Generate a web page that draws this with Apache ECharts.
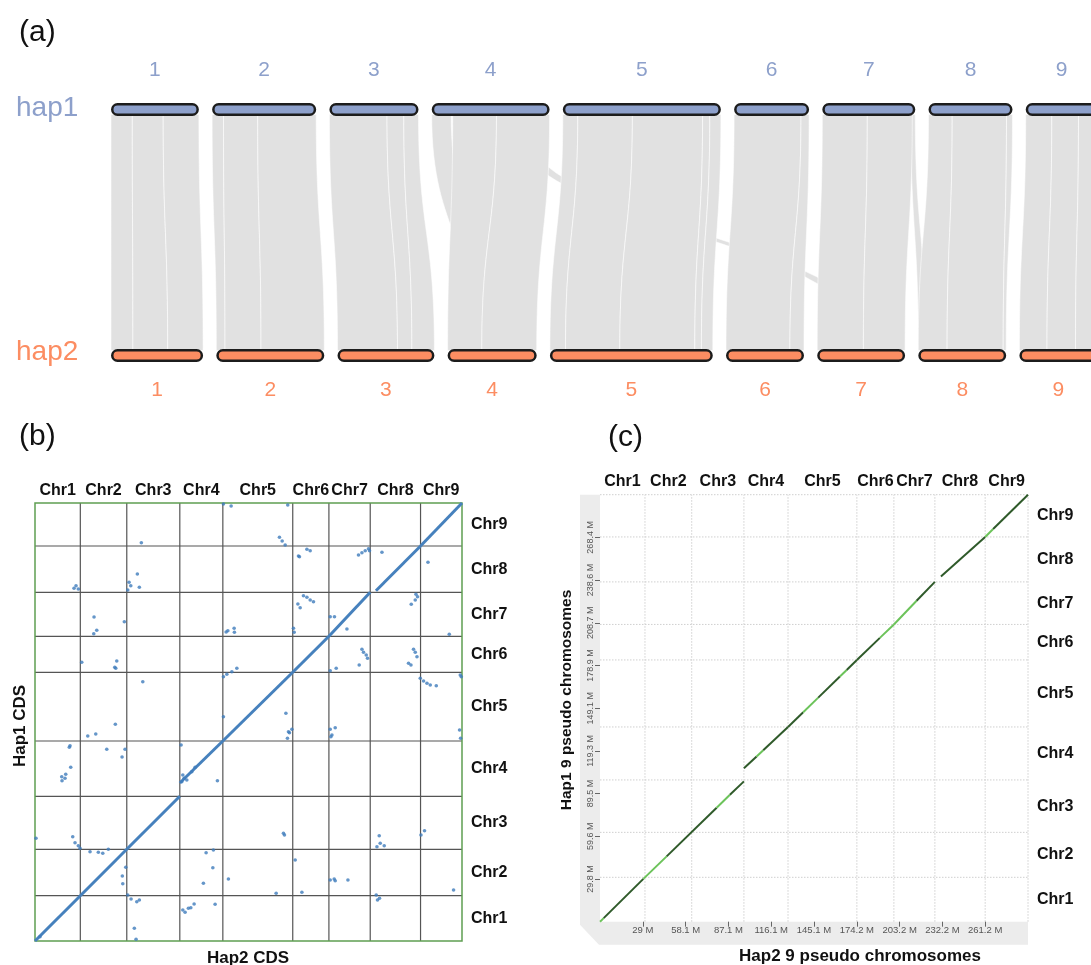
<!DOCTYPE html>
<html><head><meta charset="utf-8">
<script src="https://cdn.jsdelivr.net/npm/echarts@6/dist/echarts.min.js"></script>
<style>html,body{margin:0;padding:0;background:#fff}#chart{width:1091px;height:965px}</style>
</head><body><div id="chart"></div>
<script>
// ---------- Panel (a): synteny between haplotypes ----------
const aChrNames = ['1','2','3','4','5','6','7','8','9'];
const hap1Len = [29.3, 34.7, 29.7, 39.3, 52.7, 25.0, 31.0, 28.0, 24.0];
const hap2Len = [30.7, 36.0, 32.3, 29.7, 54.3, 26.0, 29.3, 29.3, 26.0];
const chrGap = 4.4;
// [hap1 chr, hap1 start, hap1 end, hap2 chr, hap2 start, hap2 end]
const syntenyBlocks = [
  [3,25,29,6,17,21],
  [6,29.5,31,7,0,2.5],
  [3,0,6.5,3,9,15],
  [0,0,7.1,0,0,7.3],[0,7.1,17.4,0,7.3,18.9],[0,17.4,29.3,0,18.9,30.7],
  [1,0,3.8,1,0,2.9],[1,3.8,15.2,1,2.9,14.9],[1,15.2,34.7,1,14.9,36.0],
  [2,0,19.2,2,0,20.0],[2,19.2,24.8,2,20.0,24.8],[2,24.8,29.7,2,24.8,32.3],
  [3,7,21.6,3,0,11.4],[3,21.6,39.3,3,11.4,29.7],
  [4,0,5,4,0,5.2],[4,5,23.2,4,5.2,23.3],[4,23.2,46.6,4,23.3,48.3],[4,46.6,49,4,48.3,50.5],[4,49,52.7,4,50.5,54.3],
  [5,0,22.3,5,0,21.3],[5,22.3,25,5,21.3,26.0],
  [6,0,15,6,0,15.4],[6,15,30,6,15.4,29.3],
  [7,0,7.9,7,0,9.6],[7,7.9,26,7,9.6,28.3],[7,26,28,7,28.3,29.3],
  [8,0,8.7,8,0,9.2],[8,8.7,17.6,8,9.2,18.7],[8,17.6,24,8,18.7,26.0]
];

// ---------- Panel (b): CDS dot plot (hundreds of CDS) ----------
const bChrNames = ['Chr1','Chr2','Chr3','Chr4','Chr5','Chr6','Chr7','Chr8','Chr9'];
const bHap2Cds = [31.7, 32.5, 37.1, 30.1, 48.9, 25.3, 28.9, 35.2, 29.0];
const bHap1Cds = [31.7, 32.5, 37.1, 38.7, 48.1, 25.2, 30.8, 32.4, 30.1];
const bDiagonal = [
  [0,0,31.7,31.7],[31.7,31.7,64.2,64.2],[64.2,64.2,101.3,101.3],[101.3,110.6,131.4,140.0],
  [131.4,140.0,180.3,188.1],[180.3,188.1,205.6,213.3],[205.6,213.3,234.5,244.1],
  [238.5,245.2,269.7,276.5],[269.7,276.5,298.7,306.6]
];
const bDots = [[131.8,305.9],[137.2,304.5],[176.8,305.2],[171.0,282.6],[172.9,280.0],[175.0,277.2],[74.4,278.8],[71.6,256.9],[27.3,246.9],[28.7,248.7],[30.3,246.4],[65.8,251.1],[67.0,248.7],[64.9,245.7],[73.0,247.6],[184.3,269.5],[183.9,235.9],[41.3,226.8],[62.5,223.5],[43.2,217.5],[41.1,215.1],[133.7,216.3],[134.9,217.2],[139.3,218.9],[139.5,216.1],[180.8,218.9],[181.3,216.1],[32.7,195.1],[57.2,196.0],[55.8,191.6],[56.5,190.9],[131.8,185.0],[134.2,186.7],[137.7,188.5],[141.2,190.9],[75.4,181.5],[190.2,274.2],[192.5,273.2],[185.0,269.0],[226.3,270.2],[228.7,271.8],[231.0,273.2],[233.3,274.6],[234.0,273.2],[242.7,272.1],[274.9,265.1],[187.8,241.7],[190.2,240.6],[192.5,238.7],[194.8,237.5],[185.5,233.3],[266.5,242.7],[267.6,241.0],[266.0,238.7],[263.2,235.7],[206.5,227.0],[209.5,227.0],[218.2,218.4],[289.8,214.7],[228.7,204.2],[229.8,202.1],[231.7,200.2],[232.6,197.9],[226.8,193.2],[264.8,204.2],[266.0,202.1],[267.2,199.0],[261.3,194.4],[263.0,193.2],[206.5,189.2],[210.7,190.9],[269.5,183.9],[271.8,182.0],[274.2,180.4],[276.5,179.2],[280.7,178.7],[297.5,186.2],[298.2,185.0],[131.8,157.0],[175.5,159.4],[176.6,141.9],[178.0,145.8],[179.7,148.2],[56.2,151.7],[36.9,143.5],[42.5,144.9],[24.5,136.7],[24.0,135.6],[50.2,134.2],[63.0,134.2],[60.9,128.8],[102.2,137.2],[25.0,121.6],[21.5,116.7],[18.7,115.0],[18.9,112.2],[21.0,113.9],[103.4,116.2],[104.3,113.9],[106.2,112.7],[102.7,111.5],[112.0,121.6],[109.7,118.5],[127.6,112.2],[173.8,75.4],[174.5,74.2],[0.7,71.9],[26.4,73.0],[28.0,68.8],[30.3,66.7],[31.5,64.9],[38.5,62.5],[44.3,62.1],[47.4,61.4],[51.3,64.2],[119.7,61.8],[124.8,63.7],[63.5,51.6],[61.1,45.5],[61.4,40.1],[124.4,51.3],[117.8,40.4],[135.3,43.4],[182.0,56.7],[168.7,33.4],[64.9,32.2],[67.2,29.4],[71.2,27.5],[73.0,28.7],[103.4,21.7],[105.0,20.1],[107.3,22.9],[109.0,23.3],[111.3,25.9],[126.0,25.7],[69.5,8.9],[70.7,1.2],[3.5,3.0],[177.3,146.5],[206.5,148.2],[210.0,149.3],[207.7,144.2],[207.0,143.0],[297.0,147.7],[297.7,141.9],[240.8,73.7],[241.5,68.4],[239.2,66.0],[244.3,66.7],[270.0,74.2],[272.5,77.2],[209.3,43.4],[210.0,42.2],[206.5,42.7],[218.9,42.7],[186.7,34.1],[292.8,35.7],[238.7,32.2],[241.0,29.9],[239.6,28.7]];

// ---------- Panel (c): pseudo-chromosome dot plot (Mb) ----------
const cHap2Mb = [30.5, 31.7, 35.4, 29.9, 46.7, 25.1, 27.8, 34.1, 29.05];
const cHap1Mb = [31.0, 31.4, 36.6, 37.0, 46.8, 24.8, 29.7, 31.4, 29.5];
const cXTickLabels = ['29 M','58.1 M','87.1 M','116.1 M','145.1 M','174.2 M','203.2 M','232.2 M','261.2 M'];
const cYTickLabels = ['29.8 M','59.6 M','89.5 M','119.3 M','149.1 M','178.9 M','208.7 M','238.6 M','268.4 M'];
// [hap2 x0, hap1 y0, hap2 x1, hap1 y1, shade (0 dark / 1 light)]
const cAlignSegs = [
  [0,0,2.5,2.5,1],[2.5,2.5,29.4,29.9,0],[29.4,29.9,45.2,45.6,1],[45.2,45.6,79.1,79.6,0],
  [79.1,79.6,88.1,88.7,1],[88.1,88.7,97.6,98.0,0],
  [97.6,107.1,106.2,115.4,0],[106.2,115.4,110.7,119.8,1],[110.7,119.8,127.5,136.0,0],
  [127.5,136.0,137.8,146.3,0],[137.8,146.3,148.0,156.5,1],[148.0,156.5,162.7,171.2,0],
  [162.7,171.2,167.3,175.8,1],[167.3,175.8,174.2,182.8,0],
  [174.2,182.8,189.8,198.2,0],[189.8,198.2,199.3,207.6,1],
  [199.3,207.6,214.7,224.1,1],[214.7,224.1,227.1,237.3,0],
  [231.2,241.1,261.2,268.7,0],
  [261.2,268.7,266.6,274.2,1],[266.6,274.2,290.25,298.2,0]
];

// ---------- helpers ----------
const FONT = "'Liberation Sans', Arial, Helvetica, sans-serif";
const NARROW = "'Liberation Sans Narrow', 'Liberation Sans', Arial, sans-serif";
const HAP1C = '#8da0cb', HAP2C = '#fc8d62';
function starts(lens, gap) { const o = []; let a = 0; lens.forEach(l => { o.push(a); a += l + (gap || 0); }); return o; }
function sum(a) { return a.reduce((s, v) => s + v, 0); }
const a1Start = starts(hap1Len, chrGap), a2Start = starts(hap2Len, chrGap);
const bXStart = starts(bHap2Cds), bYStart = starts(bHap1Cds);
const cXStart = starts(cHap2Mb), cYStart = starts(cHap1Mb);
const bXMax = sum(bHap2Cds), bYMax = sum(bHap1Cds);
const cXMax = sum(cHap2Mb), cYMax = sum(cHap1Mb);

function bez(t, a, b, c, d) { const u = 1 - t; return u*u*u*a + 3*u*u*t*b + 3*u*t*t*c + t*t*t*d; }

function textEl(x, y, text, font, fill, align, valign, rot) {
  return { type: 'text', x: x, y: y, rotation: rot || 0,
    style: { text: text, font: font, fill: fill, align: align, verticalAlign: valign,
             textAlign: align, textVerticalAlign: valign } };
}
function labelSeries(xi, yi, n, fn) {
  return { type: 'custom', xAxisIndex: xi, yAxisIndex: yi, clip: false, silent: true, z: 6,
    data: Array.from({length: n}, (_, i) => [i, 0]),
    renderItem: (p, api) => fn(p.dataIndex, api) };
}

const series = [];

// (a) ribbons
series.push({
  type: 'custom', xAxisIndex: 0, yAxisIndex: 0, clip: false, silent: true, z: 2,
  data: syntenyBlocks,
  renderItem: function (p, api) {
    const c1 = api.value(0), c2 = api.value(3);
    const xa = api.coord([a1Start[c1] + api.value(1), 1])[0];
    const xb = api.coord([a1Start[c1] + api.value(2), 1])[0];
    const xc = api.coord([a2Start[c2] + api.value(4), 0])[0];
    const xd = api.coord([a2Start[c2] + api.value(5), 0])[0];
    const yT = api.coord([0, 1])[1] + 5, yB = api.coord([0, 0])[1] - 5, ym = (yT + yB) / 2;
    const pts = [[xa, yT], [xb, yT]];
    const N = 30;
    for (let i = 1; i <= N; i++) { const t = i / N; pts.push([bez(t, xb, xb, xd, xd), bez(t, yT, ym, ym, yB)]); }
    pts.push([xc, yB]);
    for (let i = 1; i < N; i++) { const t = i / N; pts.push([bez(t, xc, xc, xa, xa), bez(t, yB, ym, ym, yT)]); }
    return { type: 'polygon', shape: { points: pts },
      style: { fill: '#e1e1e1', stroke: 'rgba(255,255,255,0.8)', lineWidth: 0.7 } };
  }
});
// (a) chromosome bars
const aBars = [];
hap1Len.forEach((l, i) => aBars.push([1, i]));
hap2Len.forEach((l, i) => aBars.push([0, i]));
series.push({
  type: 'custom', xAxisIndex: 0, yAxisIndex: 0, clip: false, silent: true, z: 4,
  data: aBars,
  renderItem: function (p, api) {
    const hap = api.value(0), i = api.value(1);
    const s = hap === 1 ? a1Start[i] : a2Start[i];
    const l = hap === 1 ? hap1Len[i] : hap2Len[i];
    const p0 = api.coord([s, hap]), p1 = api.coord([s + l, hap]);
    const h = 10.5;
    return { type: 'rect', shape: { x: p0[0] + 1.25, y: p0[1] - h / 2, width: p1[0] - p0[0] - 2.5, height: h, r: h / 2 },
      style: { fill: hap === 1 ? HAP1C : HAP2C, stroke: '#1c1c1c', lineWidth: 2.5 } };
  }
});
// (a) chromosome numbers
series.push(labelSeries(0, 0, 9, (i, api) => {
  const p = api.coord([a1Start[i] + hap1Len[i] / 2, 1]);
  return textEl(p[0], p[1] - 39, aChrNames[i], '21px ' + FONT, HAP1C, 'center', 'middle');
}));
series.push(labelSeries(0, 0, 9, (i, api) => {
  const p = api.coord([a2Start[i] + hap2Len[i] / 2, 0]);
  return textEl(p[0], p[1] + 35, aChrNames[i], '21px ' + FONT, HAP2C, 'center', 'middle');
}));

// (b) inner grid lines
const bLines = [];
bXStart.slice(1).forEach(v => bLines.push([0, v]));
bYStart.slice(1).forEach(v => bLines.push([1, v]));
series.push({
  type: 'custom', xAxisIndex: 1, yAxisIndex: 1, clip: false, silent: true, z: 2,
  data: bLines,
  renderItem: function (p, api) {
    const t = api.value(0), v = api.value(1);
    const a = t === 0 ? api.coord([v, 0]) : api.coord([0, v]);
    const b = t === 0 ? api.coord([v, bYMax]) : api.coord([bXMax, v]);
    return { type: 'line', shape: { x1: a[0], y1: a[1], x2: b[0], y2: b[1] }, style: { stroke: '#555', lineWidth: 1.2 } };
  }
});
// (b) frame
series.push({
  type: 'custom', xAxisIndex: 1, yAxisIndex: 1, clip: false, silent: true, z: 3,
  data: [[0, 0]],
  renderItem: function (p, api) {
    const a = api.coord([0, 0]), b = api.coord([bXMax, bYMax]);
    return { type: 'rect', shape: { x: a[0], y: b[1], width: b[0] - a[0], height: a[1] - b[1] },
      style: { fill: 'none', stroke: '#5f9e52', lineWidth: 1.5 } };
  }
});
// (b) diagonal
series.push({
  type: 'custom', xAxisIndex: 1, yAxisIndex: 1, clip: false, silent: true, z: 4,
  data: bDiagonal,
  renderItem: function (p, api) {
    const a = api.coord([api.value(0), api.value(1)]), b = api.coord([api.value(2), api.value(3)]);
    return { type: 'line', shape: { x1: a[0], y1: a[1], x2: b[0], y2: b[1] }, style: { stroke: '#4681bd', lineWidth: 3 } };
  }
});
// (b) dots
series.push({ type: 'scatter', xAxisIndex: 1, yAxisIndex: 1, data: bDots, symbolSize: 3.6, silent: true, z: 5,
  itemStyle: { color: '#3f7cbb' } });
// (b) labels
series.push(labelSeries(1, 1, 9, (i, api) => {
  const p = api.coord([bXStart[i] + bHap2Cds[i] / 2, bYMax]);
  return textEl(p[0], p[1] - 12.5, bChrNames[i], 'bold 16px ' + FONT, '#111', 'center', 'middle');
}));
series.push(labelSeries(1, 1, 9, (i, api) => {
  const p = api.coord([bXMax, bYStart[i] + bHap1Cds[i] / 2]);
  return textEl(p[0] + 9, p[1], bChrNames[i], 'bold 16px ' + FONT, '#111', 'left', 'middle');
}));

// (c) gray axis band
series.push({
  type: 'custom', xAxisIndex: 2, yAxisIndex: 2, clip: false, silent: true, z: 0,
  data: [[0, 0]],
  renderItem: function (p, api) {
    const a = api.coord([0, 0]), b = api.coord([cXMax, cYMax]);
    const pts = [[a[0] - 20, b[1]], [a[0], b[1]], [a[0], a[1]], [b[0], a[1]], [b[0], a[1] + 23], [a[0] - 1, a[1] + 23], [a[0] - 20, a[1] + 3]];
    return { type: 'polygon', shape: { points: pts }, style: { fill: '#ececec' } };
  }
});
// (c) dotted boundary lines
const cLines = [];
cXStart.slice(1).concat([cXMax]).forEach(v => cLines.push([0, v]));
cYStart.slice(1).concat([cYMax]).forEach(v => cLines.push([1, v]));
series.push({
  type: 'custom', xAxisIndex: 2, yAxisIndex: 2, clip: false, silent: true, z: 2,
  data: cLines,
  renderItem: function (p, api) {
    const t = api.value(0), v = api.value(1);
    const a = t === 0 ? api.coord([v, 0]) : api.coord([0, v]);
    const b = t === 0 ? api.coord([v, cYMax]) : api.coord([cXMax, v]);
    return { type: 'line', shape: { x1: a[0], y1: a[1], x2: b[0], y2: b[1] }, style: { stroke: '#cfcfcf', lineWidth: 1, lineDash: [1.5, 1.5] } };
  }
});
// (c) alignment segments
series.push({
  type: 'custom', xAxisIndex: 2, yAxisIndex: 2, clip: false, silent: true, z: 4,
  data: cAlignSegs,
  renderItem: function (p, api) {
    const a = api.coord([api.value(0), api.value(1)]), b = api.coord([api.value(2), api.value(3)]);
    return { type: 'line', shape: { x1: a[0], y1: a[1], x2: b[0], y2: b[1] },
      style: { stroke: api.value(4) === 1 ? '#6cc35a' : '#2f5a2a', lineWidth: 2 } };
  }
});
// (c) labels
series.push(labelSeries(2, 2, 9, (i, api) => {
  const p = api.coord([cXStart[i] + cHap2Mb[i] / 2, cYMax]);
  return textEl(p[0], p[1] - 13, bChrNames[i], 'bold 16px ' + FONT, '#111', 'center', 'middle');
}));
series.push(labelSeries(2, 2, 9, (i, api) => {
  const p = api.coord([cXMax, cYStart[i] + cHap1Mb[i] / 2]);
  return textEl(p[0] + 9, p[1], bChrNames[i], 'bold 16px ' + FONT, '#111', 'left', 'middle');
}));

const cXTicks = cXTickLabels.map(s => parseFloat(s));
const cYTicks = cYTickLabels.map(s => parseFloat(s));

const option = {
  animation: false,
  backgroundColor: '#ffffff',
  grid: [
    { left: 111, top: 109.5, right: 0, height: 246 },
    { left: 35, top: 503, width: 427, height: 438 },
    { left: 600, top: 494.7, width: 428, height: 427 }
  ],
  xAxis: [
    { gridIndex: 0, type: 'value', min: 0, max: 980 / 3, show: false },
    { gridIndex: 1, type: 'value', min: 0, max: bXMax, show: false },
    { gridIndex: 2, type: 'value', min: 0, max: cXMax, z: 5, offset: 1,
      axisLine: { show: false }, splitLine: { show: false },
      axisTick: { show: true, length: 5, customValues: cXTicks, lineStyle: { color: '#666' } },
      axisLabel: { customValues: cXTicks, margin: 3, fontSize: 9.5, fontFamily: NARROW, color: '#555',
        formatter: v => cXTickLabels[cXTicks.indexOf(v)] || '' } }
  ],
  yAxis: [
    { gridIndex: 0, type: 'value', min: 0, max: 1, show: false },
    { gridIndex: 1, type: 'value', min: 0, max: bYMax, show: false },
    { gridIndex: 2, type: 'value', min: 0, max: cYMax, z: 5,
      axisLine: { show: false }, splitLine: { show: false },
      axisTick: { show: true, length: 5, customValues: cYTicks, lineStyle: { color: '#666' } },
      axisLabel: { customValues: cYTicks, rotate: 90, margin: 5, fontSize: 9, fontFamily: NARROW, color: '#555',
        formatter: v => cYTickLabels[cYTicks.indexOf(v)] || '' } }
  ],
  graphic: [
    { type: 'text', x: 19, y: 33, style: { text: '(a)', font: '30px ' + FONT, fill: '#111', textAlign: 'left', textVerticalAlign: 'middle' } },
    { type: 'text', x: 16, y: 108, style: { text: 'hap1', font: '28px ' + FONT, fill: HAP1C, textAlign: 'left', textVerticalAlign: 'middle' } },
    { type: 'text', x: 16, y: 352, style: { text: 'hap2', font: '28px ' + FONT, fill: HAP2C, textAlign: 'left', textVerticalAlign: 'middle' } },
    { type: 'text', x: 19, y: 437, style: { text: '(b)', font: '30px ' + FONT, fill: '#111', textAlign: 'left', textVerticalAlign: 'middle' } },
    { type: 'text', x: 608, y: 438, style: { text: '(c)', font: '30px ' + FONT, fill: '#111', textAlign: 'left', textVerticalAlign: 'middle' } },
    { type: 'text', x: 20, y: 726, rotation: Math.PI / 2, style: { text: 'Hap1 CDS', font: 'bold 17px ' + FONT, fill: '#111', textAlign: 'center', textVerticalAlign: 'middle' } },
    { type: 'text', x: 248, y: 958, style: { text: 'Hap2 CDS', font: 'bold 17px ' + FONT, fill: '#111', textAlign: 'center', textVerticalAlign: 'middle' } },
    { type: 'text', x: 567, y: 700, rotation: Math.PI / 2, style: { text: 'Hap1 9 pseudo chromosomes', font: 'bold 15.5px ' + FONT, fill: '#111', textAlign: 'center', textVerticalAlign: 'middle' } },
    { type: 'text', x: 860, y: 956, style: { text: 'Hap2 9 pseudo chromosomes', font: 'bold 17px ' + FONT, fill: '#111', textAlign: 'center', textVerticalAlign: 'middle' } }
  ],
  series: series
};
const chart = echarts.init(document.getElementById('chart'), null, { renderer: 'canvas' });
chart.setOption(option);
</script>
</body></html>
